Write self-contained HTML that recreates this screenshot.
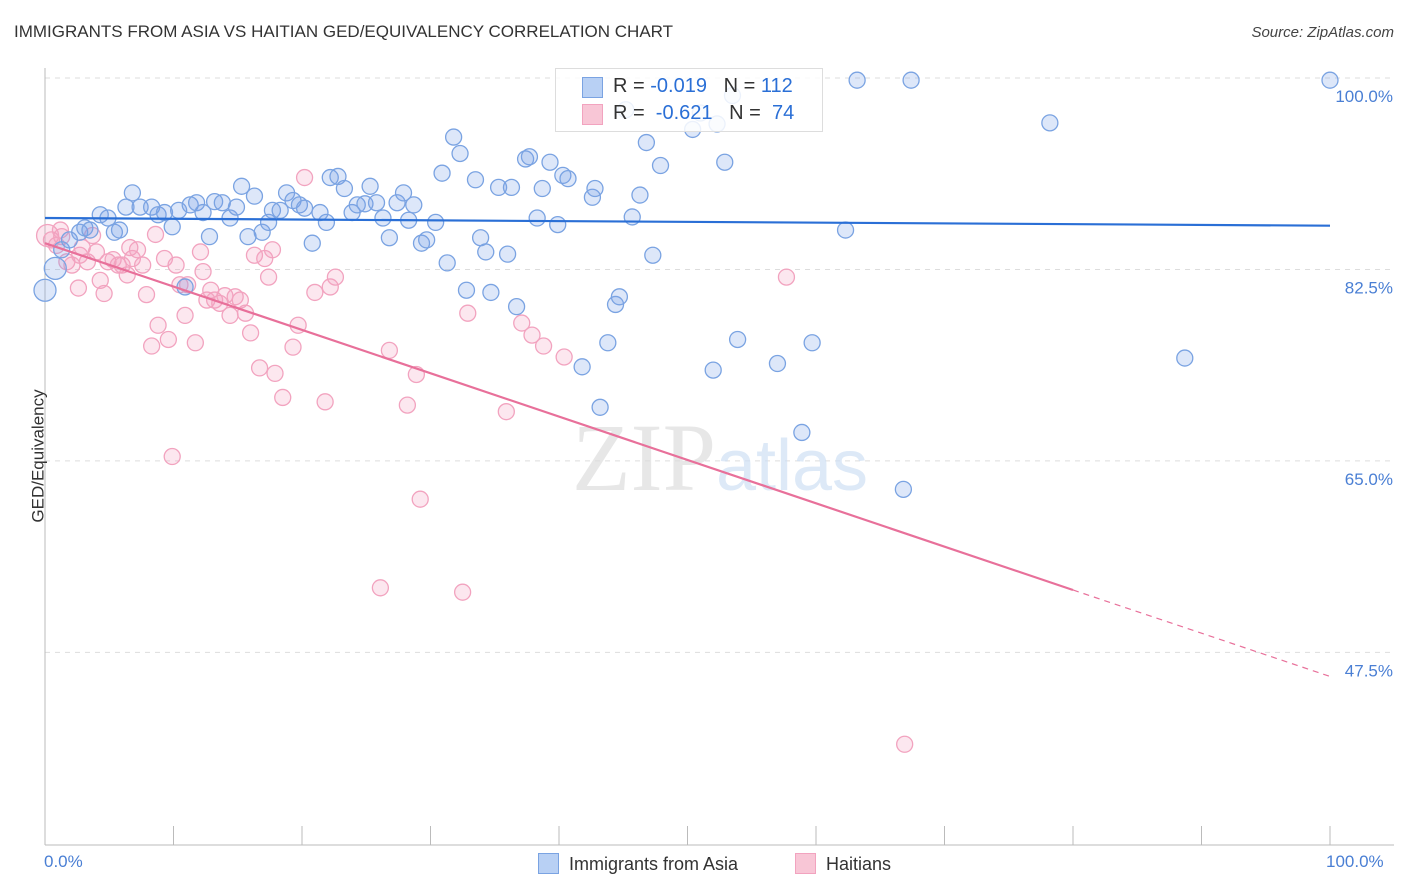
<!DOCTYPE html>
<html><head><meta charset="utf-8">
<style>
body{margin:0;background:#fff;font-family:"Liberation Sans",sans-serif;}
#wrap{position:relative;width:1406px;height:892px;overflow:hidden;}
.t{position:absolute;white-space:nowrap;}
</style></head>
<body>
<div id="wrap">
<div class="t" style="left:14px;top:22px;font-size:17px;color:#333;">IMMIGRANTS FROM ASIA VS HAITIAN GED/EQUIVALENCY CORRELATION CHART</div>
<div class="t" style="right:12px;top:24px;font-size:15px;color:#444;font-style:italic;">Source: ZipAtlas.com</div>
<svg id="svg" width="1406" height="892" style="position:absolute;left:0;top:0"></svg>
</div>
<script>
const blueX=[0,0.8,1.3,1.9,2.7,3.1,3.5,4.3,4.9,5.4,5.8,6.3,6.8,7.4,8.3,8.8,9.3,9.9,10.4,10.9,11.3,11.8,12.3,12.8,13.2,13.8,14.4,14.9,15.3,15.8,16.3,16.9,17.4,17.7,18.3,18.8,19.3,19.8,20.2,20.8,21.4,21.9,22.2,22.8,23.3,23.9,24.3,24.9,25.3,25.8,26.3,26.8,27.4,27.9,28.3,28.7,29.3,29.7,30.4,30.9,31.3,31.8,32.3,32.8,33.5,33.9,34.3,34.7,35.3,36.0,36.3,36.7,37.4,37.7,38.3,38.7,39.3,39.9,40.3,40.7,41.8,42.6,42.8,43.2,43.8,44.4,44.7,45.2,45.7,46.3,46.8,47.3,47.9,50.4,51.0,52.0,52.3,52.9,53.5,53.9,57.0,58.9,59.7,62.3,63.2,66.8,67.4,78.2,88.7,100];
const blueY=[80.6,82.6,84.3,85.2,85.9,86.3,86.1,87.5,87.2,85.9,86.1,88.2,89.5,88.2,88.2,87.5,87.7,86.4,87.9,80.9,88.4,88.6,87.7,85.5,88.7,88.6,87.2,88.2,90.1,85.5,89.2,85.9,86.8,87.9,87.9,89.5,88.8,88.4,88.1,84.9,87.7,86.8,90.9,91.0,89.9,87.7,88.4,88.5,90.1,88.6,87.2,85.4,88.6,89.5,87.0,88.4,84.9,85.2,86.8,91.3,83.1,94.6,93.1,80.6,90.7,85.4,84.1,80.4,90.0,83.9,90.0,79.1,92.6,92.8,87.2,89.9,92.3,86.6,91.1,90.8,73.6,89.1,89.9,69.9,75.8,79.3,80.0,97.1,87.3,89.3,94.1,83.8,92.0,95.3,96.8,73.3,95.8,92.3,98.4,76.1,73.9,67.6,75.8,86.1,99.8,62.4,99.8,95.9,74.4,99.8];
const pinkX=[0.2,0.5,0.9,1.3,1.7,2.1,2.6,2.9,3.3,3.7,4.0,4.3,4.6,4.9,5.3,5.7,6.0,6.4,6.6,6.8,7.2,7.6,7.9,8.3,8.6,8.8,9.3,9.6,9.9,10.2,10.5,10.9,11.1,11.7,12.1,12.3,12.6,12.9,13.2,13.6,14.0,14.4,14.8,15.2,15.6,16.0,16.3,16.7,17.1,17.4,17.7,17.9,18.5,19.3,19.7,20.2,21.0,21.8,22.2,22.6,26.1,26.8,28.2,28.9,29.2,32.5,32.9,35.9,37.1,37.9,38.8,40.4,57.7,66.9,2.7,1.2];
const pinkY=[85.6,85.2,84.7,85.5,83.2,82.9,80.8,84.5,83.2,85.6,84.1,81.5,80.3,83.2,83.4,82.9,82.9,82.0,84.5,83.5,84.3,82.9,80.2,75.5,85.7,77.4,83.5,76.1,65.4,82.9,81.1,78.3,81.1,75.8,84.1,82.3,79.7,80.6,79.7,79.4,80.1,78.3,80.0,79.7,78.5,76.7,83.8,73.5,83.5,81.8,84.3,73.0,70.8,75.4,77.4,90.9,80.4,70.4,80.9,81.8,53.4,75.1,70.1,72.9,61.5,53.0,78.5,69.5,77.6,76.5,75.5,74.5,81.8,39.1,83.8,86.1];
const blueTrend=[87.2,86.5];
const pinkTrend=[84.9,53.2,45.3];
const pinkTrendX=[0,80,100];
const yTicks=[100,82.5,65,47.5];
const yTickLabels=["100.0%","82.5%","65.0%","47.5%"];

const NS="http://www.w3.org/2000/svg";
const svg=document.getElementById('svg');
const X=v=>45+v*12.85;
const Y=v=>78+(100-v)*10.94;
function mk(tag,at,parent){const e=document.createElementNS(NS,tag);for(const k in at)e.setAttribute(k,at[k]);(parent||svg).appendChild(e);return e;}

yTicks.forEach((v,i)=>{
  const g=mk('line',{x1:45,x2:1394,y1:Y(v),y2:Y(v),stroke:'#ddd','stroke-dasharray':'5,5'});
  
  
  const t=mk('text',{x:1393,y:Y(v)+24,'text-anchor':'end','font-size':17,fill:'#4a7fd4','font-family':'Liberation Sans, sans-serif'});
  t.textContent=yTickLabels[i];
  
  
});
const ax=mk('line',{x1:45,x2:1394,y1:845,y2:845,stroke:'#bbb'});


const ay=mk('line',{x1:45,x2:45,y1:68,y2:845,stroke:'#bbb'});


for(let i=0;i<=10;i++){
  const tk=mk('line',{x1:X(i*10),x2:X(i*10),y1:826,y2:845,stroke:'#bbb'});
  
  
}
const wm=mk('text',{x:720,y:490,'text-anchor':'middle','font-size':96,fill:'#ddd','font-family':'Liberation Serif, serif','opacity':0.7});


wm.innerHTML='ZIP<tspan font-family="Liberation Sans, sans-serif" font-size="72" fill="#cfe0f5">atlas</tspan>';

pinkX.forEach((x,i)=>{
  const c=mk('circle',{cx:X(x),cy:Y(pinkY[i]),r:i==0?11:8,fill:'rgba(244,160,190,0.25)',stroke:'#f2a3bf','stroke-width':1.3});
  
  
});
blueX.forEach((x,i)=>{
  const c=mk('circle',{cx:X(x),cy:Y(blueY[i]),r:(i<2)?11:8,fill:'rgba(120,160,230,0.25)',stroke:'#7aa3e2','stroke-width':1.3});
  
  
});
const bl=mk('line',{x1:X(0),x2:X(100),y1:Y(blueTrend[0]),y2:Y(blueTrend[1]),stroke:'#2a6fd6','stroke-width':2.2});


const pl=mk('line',{x1:X(pinkTrendX[0]),x2:X(pinkTrendX[1]),y1:Y(pinkTrend[0]),y2:Y(pinkTrend[1]),stroke:'#e8709a','stroke-width':2.2});


const pd=mk('line',{x1:X(pinkTrendX[1]),x2:X(pinkTrendX[2]),y1:Y(pinkTrend[1]),y2:Y(pinkTrend[2]),stroke:'#e8709a','stroke-width':1.2,'stroke-dasharray':'6,5'});


</script>
<div class="t" style="left:-28px;top:446px;font-size:17px;color:#333;transform:rotate(-90deg);">GED/Equivalency</div>
<div class="t" style="left:44px;top:852px;font-size:17px;color:#4a7fd4;">0.0%</div>
<div class="t" style="left:1326px;top:852px;font-size:17px;color:#4a7fd4;">100.0%</div>
<div style="position:absolute;left:555px;top:68px;width:266px;height:62px;border:1px solid #ddd;background:rgba(255,255,255,0.85);font-size:20px;color:#333;">
  <div style="position:absolute;left:26px;top:8px;width:19px;height:19px;background:#b8d0f4;border:1px solid #7aa3e2;"></div>
  <div class="t" style="left:57px;top:6px;">R = <span style="color:#2a6fd6">-0.019</span>&nbsp;&nbsp;&nbsp;N = <span style="color:#2a6fd6">112</span></div>
  <div style="position:absolute;left:26px;top:35px;width:19px;height:19px;background:#f8c6d6;border:1px solid #f2a3bf;"></div>
  <div class="t" style="left:57px;top:33px;">R = &nbsp;<span style="color:#2a6fd6">-0.621</span>&nbsp;&nbsp;&nbsp;N = &nbsp;<span style="color:#2a6fd6">74</span></div>
</div>
<div style="position:absolute;left:538px;top:853px;font-size:18px;color:#333;">
  <span style="display:inline-block;width:19px;height:19px;background:#b8d0f4;border:1px solid #7aa3e2;vertical-align:-4px;"></span>&nbsp; Immigrants from Asia</div>
<div style="position:absolute;left:795px;top:853px;font-size:18px;color:#333;">
  <span style="display:inline-block;width:19px;height:19px;background:#f8c6d6;border:1px solid #f2a3bf;vertical-align:-4px;"></span>&nbsp; Haitians</div>
</body></html>
